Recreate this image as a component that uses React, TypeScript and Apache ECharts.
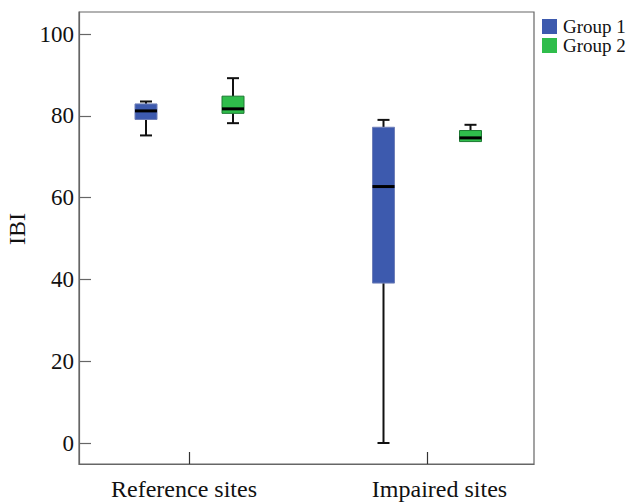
import React, { useEffect, useRef } from "react";
import * as echarts from "echarts";

const categories = ["Reference sites", "Impaired sites"];
const yTicks = [0, 20, 40, 60, 80, 100];
const xTicks = [0, 1];

const group1Min = [75.2, 0];
const group1Q1 = [79.1, 39.1];
const group1Median = [81.2, 62.7];
const group1Q3 = [82.9, 77.2];
const group1Max = [83.5, 79.0];

const group2Min = [78.2, 73.7];
const group2Q1 = [80.6, 73.7];
const group2Median = [81.7, 74.6];
const group2Q3 = [84.8, 76.4];
const group2Max = [89.2, 77.8];

const FONT = "'Liberation Serif', 'Times New Roman', serif";

function buildData(mins: number[], q1: number[], med: number[], q3: number[], maxs: number[]) {
  return categories.map((_, i) => [i, mins[i], q1[i], med[i], q3[i], maxs[i]]);
}

function makeRenderer(offsetPx: number, fill: string, stroke: string) {
  return (params: any, api: any) => {
    const idx = api.value(0);
    const cx = api.coord([idx, 0])[0] + offsetPx;
    const yMin = api.coord([idx, api.value(1)])[1];
    const yQ1 = api.coord([idx, api.value(2)])[1];
    const yMed = api.coord([idx, api.value(3)])[1];
    const yQ3 = api.coord([idx, api.value(4)])[1];
    const yMax = api.coord([idx, api.value(5)])[1];
    const boxW = 22;
    const capW = 12;
    const lineStyle = { stroke: "#111", lineWidth: 2 };
    const children: any[] = [];
    if (Math.abs(yMax - yQ3) > 0.5) {
      children.push({ type: "line", shape: { x1: cx, y1: yMax, x2: cx, y2: yQ3 }, style: lineStyle });
      children.push({ type: "line", shape: { x1: cx - capW / 2, y1: yMax, x2: cx + capW / 2, y2: yMax }, style: lineStyle });
    }
    if (Math.abs(yMin - yQ1) > 0.5) {
      children.push({ type: "line", shape: { x1: cx, y1: yQ1, x2: cx, y2: yMin }, style: lineStyle });
      children.push({ type: "line", shape: { x1: cx - capW / 2, y1: yMin, x2: cx + capW / 2, y2: yMin }, style: lineStyle });
    }
    children.push({
      type: "rect",
      shape: { x: cx - boxW / 2, y: yQ3, width: boxW, height: yQ1 - yQ3 },
      style: { fill, stroke, lineWidth: 1 },
    });
    children.push({
      type: "line",
      shape: { x1: cx - boxW / 2, y1: yMed, x2: cx + boxW / 2, y2: yMed },
      style: { stroke: "#000", lineWidth: 3 },
    });
    return { type: "group", children };
  };
}

export default function App() {
  const ref = useRef<HTMLDivElement>(null);
  useEffect(() => {
    if (!ref.current) return;
    const chart = echarts.init(ref.current, null, { renderer: "svg" });
    const blue = "#3d5aae";
    const green = "#2fbd4b";
    chart.setOption({
      animation: false,
      backgroundColor: "#fff",
      grid: {
        left: 79, right: 95, top: 12, bottom: 38,
        containLabel: false,
        outerBoundsMode: "none",
        show: true, borderColor: "#666", borderWidth: 1.2, backgroundColor: "transparent",
      },
      legend: {
        orient: "vertical",
        left: 537,
        top: 12,
        itemWidth: 15,
        itemHeight: 15,
        itemGap: 0,
        icon: "rect",
        textStyle: { fontFamily: FONT, fontSize: 19, color: "#111", lineHeight: 18, padding: [0, 0, 0, 1] },
        data: ["Group 1", "Group 2"],
      },
      xAxis: {
        type: "value",
        min: (79 - 189.5) / 237.5,
        max: (534 - 189.5) / 237.5,
        splitLine: { show: false },
        axisLine: { show: true, onZero: false, lineStyle: { color: "#666", width: 1.2 } },
        axisTick: { show: true, inside: true, length: 12, customValues: xTicks, lineStyle: { color: "#333", width: 1.2 } },
        axisLabel: {
          customValues: xTicks,
          margin: 13,
          fontFamily: FONT,
          fontSize: 24,
          color: "#111",
          formatter: (v: number) => (Math.round(v) === 0 ? "{a|" + categories[0] + "}" : "{b|" + categories[1] + "}"),
          rich: {
            a: { fontFamily: FONT, fontSize: 24, color: "#111", padding: [0, 11, 0, 0] },
            b: { fontFamily: FONT, fontSize: 24, color: "#111", padding: [0, 0, 0, 25] },
          },
        },
      },
      yAxis: {
        type: "value",
        min: -(464 - 443) / 4.09,
        max: (443 - 12) / 4.09,
        name: "IBI",
        nameLocation: "middle",
        nameGap: 46,
        nameTextStyle: { fontFamily: FONT, fontSize: 24, color: "#111", padding: [0, 0, 0, 18] },
        splitLine: { show: false },
        axisLine: { show: true, onZero: false, lineStyle: { color: "#666", width: 1.2 } },
        axisTick: { show: true, inside: true, length: 12, customValues: yTicks, lineStyle: { color: "#666", width: 1.2 } },
        axisLabel: { customValues: yTicks, margin: 5, fontFamily: FONT, fontSize: 23, color: "#111" },
      },
      series: [
        {
          name: "Group 1",
          type: "custom",
          color: blue,
          itemStyle: { color: blue },
          renderItem: makeRenderer(-43.5, blue, "#6f7fb8"),
          encode: { x: 0, y: [1, 2, 3, 4, 5] },
          data: buildData(group1Min, group1Q1, group1Median, group1Q3, group1Max),
        },
        {
          name: "Group 2",
          type: "custom",
          color: green,
          itemStyle: { color: green },
          renderItem: makeRenderer(43.5, green, "#1e7a33"),
          encode: { x: 0, y: [1, 2, 3, 4, 5] },
          data: buildData(group2Min, group2Q1, group2Median, group2Q3, group2Max),
        },
      ],
    });
    return () => chart.dispose();
  }, []);
  return <div ref={ref} style={{ width: 629, height: 502, position: "absolute", left: 0, top: 0 }} />;
}
